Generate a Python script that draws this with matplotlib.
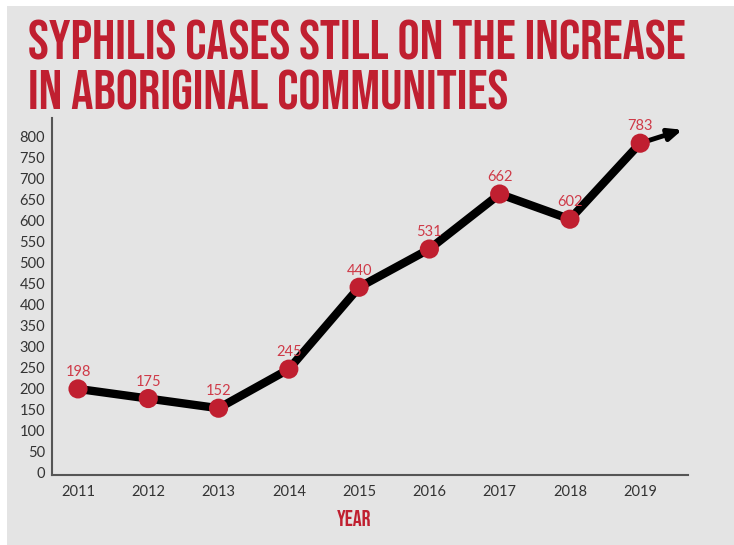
import matplotlib.pyplot as plt
from matplotlib.patches import Rectangle

years = ["2011", "2012", "2013", "2014", "2015", "2016", "2017", "2018", "2019"]
cases = [198, 175, 152, 245, 440, 531, 662, 602, 783]
y_ticks = list(range(0, 801, 50))

RED = "#c01f30"
LABEL_RED = "#cf3a48"
BG = "#e4e4e4"
TITLE_FONT = ["Bebas Neue", "League Gothic", "DejaVu Sans"]

fig = plt.figure(figsize=(7.34, 5.45), dpi=100)
fig.patch.set_facecolor("white")
fig.patches.append(Rectangle((7 / 734, 0), 1, 1 - 6 / 545, transform=fig.transFigure,
                             facecolor=BG, edgecolor="none", zorder=-10))

ax = fig.add_axes([52 / 734, (545 - 475) / 545, (688 - 52) / 734, (475 - 118) / 545])
ax.set_facecolor(BG)

x = list(range(len(years)))
ax.plot(x, cases, color="black", lw=6, solid_joinstyle="miter", zorder=2)
# trend arrow continuing past the last point
ax.annotate("", xy=(8.6, 815), xytext=(8, cases[-1]),
            arrowprops=dict(arrowstyle="-|>,head_length=0.8,head_width=0.35",
                            color="black", lw=3.5, shrinkA=0, shrinkB=0), zorder=2)
ax.scatter(x, cases, s=190, color=RED, zorder=3, edgecolors="none")
for xi, v in zip(x, cases):
    ax.annotate(str(v), (xi, v), xytext=(0, 7), textcoords="offset points",
                ha="center", va="bottom", color=LABEL_RED, fontsize=10.5, family="Lato")

ax.set_xlim(-0.37, 8.68)
ax.set_ylim(-7, 843)
ax.set_xticks(x)
ax.set_xticklabels(years)
ax.set_yticks(y_ticks)
ax.tick_params(length=0, labelsize=10.5, colors="#333333", pad=5)
ax.tick_params(axis="x", pad=7)
for lab in ax.get_xticklabels() + ax.get_yticklabels():
    lab.set_family("Lato")
for s in ["top", "right"]:
    ax.spines[s].set_visible(False)
for s in ["left", "bottom"]:
    ax.spines[s].set_color("#555555")
    ax.spines[s].set_linewidth(1.5)

fig.text(28 / 734, 1 - 40 / 545, "SYPHILIS CASES STILL ON THE INCREASE",
         ha="left", va="center", color=RED, fontsize=40, family=TITLE_FONT)
fig.text(28 / 734, 1 - 90 / 545, "IN ABORIGINAL COMMUNITIES",
         ha="left", va="center", color=RED, fontsize=40, family=TITLE_FONT)
fig.text(354 / 734, 1 - 518 / 545, "YEAR", ha="center", va="center", color=RED,
         fontsize=16, family=TITLE_FONT)

fig.savefig("out.png", dpi=100)
